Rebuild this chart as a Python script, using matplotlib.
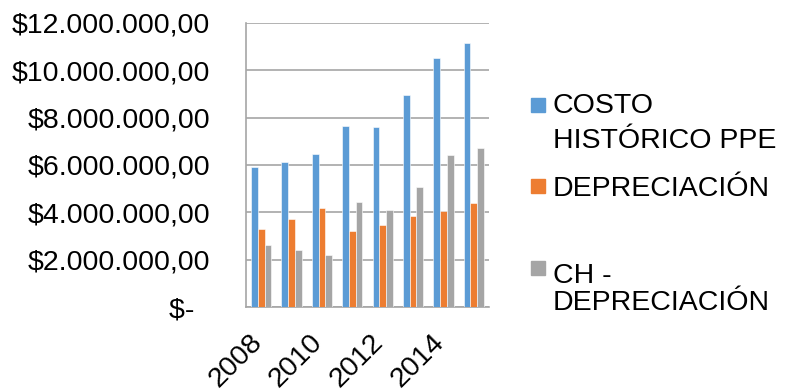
import numpy as np
import matplotlib
matplotlib.use("Agg")
import matplotlib.pyplot as plt
import matplotlib.transforms as mtransforms
from matplotlib.patches import Rectangle

plt.rcParams['font.family'] = ['Liberation Sans', 'DejaVu Sans']

# Data (COP)
years = [2008, 2009, 2010, 2011, 2012, 2013, 2014, 2015]
costo_historico = [5930000, 6140000, 6450000, 7650000, 7620000, 8940000, 10510000, 11140000]
depreciacion = [3300000, 3720000, 4200000, 3200000, 3460000, 3860000, 4070000, 4390000]
ch_depreciacion = [2610000, 2410000, 2210000, 4420000, 4110000, 5060000, 6420000, 6720000]

series_names = ["COSTO\nHISTÓRICO PPE", "DEPRECIACIÓN", "CH -\nDEPRECIACIÓN"]
colors = ["#5B9BD5", "#ED7D31", "#A5A5A5"]
y_ticks = [0, 2000000, 4000000, 6000000, 8000000, 10000000, 12000000]

FS = 20.5

fig = plt.figure(figsize=(7.86, 3.9), dpi=100)
ax = fig.add_axes([246 / 786, 1 - 307 / 390, (489 - 246) / 786, (307 - 23) / 390])

x = np.arange(len(years))
bw = 0.222
for i, (vals, c) in enumerate(zip([costo_historico, depreciacion, ch_depreciacion], colors)):
    ax.bar(x + (i - 1) * bw, vals, width=bw, color=c, edgecolor="white",
           linewidth=0.4, zorder=3)

ax.set_xlim(-0.5, len(years) - 0.5)
ax.set_ylim(0, 12000000)


def money(v):
    if v == 0:
        return "$-  "
    s = f"{v:,.2f}".replace(",", "X").replace(".", ",").replace("X", ".")
    return "$" + s


ax.set_yticks(y_ticks)
ax.set_yticklabels([money(v) for v in y_ticks], fontsize=FS, color="black")
ax.yaxis.grid(True, color="#a6a6a6", linewidth=1.2, zorder=0)
ax.tick_params(axis="y", length=0, pad=26)

ax.set_xticks(x[::2])
ax.set_xticklabels([str(y) for y in years[::2]], fontsize=FS, rotation=45,
                   ha="right", va="top", color="black")
ax.tick_params(axis="x", length=0, pad=16)
shift = mtransforms.ScaledTranslation(6 / 100, 0, fig.dpi_scale_trans)
for lbl in ax.get_xticklabels():
    lbl.set_transform(lbl.get_transform() + shift)

for side in ["top", "right"]:
    ax.spines[side].set_visible(False)
for side in ["left", "bottom"]:
    ax.spines[side].set_color("#a6a6a6")
    ax.spines[side].set_linewidth(1.2)

# Legend: colour swatch plus label lines
legend_rows = [(105, [103, 138]), (186, [186]), (268, [273, 300])]
for name, c, (sq_y, ys) in zip(series_names, colors, legend_rows):
    fig.patches.append(Rectangle((531 / 786, 1 - (sq_y + 7) / 390), 14 / 786, 14 / 390,
                                 transform=fig.transFigure, color=c))
    for yy, line in zip(ys, name.split("\n")):
        fig.text(553 / 786, 1 - yy / 390, line, fontsize=FS, color="black",
                 ha="left", va="center_baseline")

fig.savefig("out.png", dpi=100)
